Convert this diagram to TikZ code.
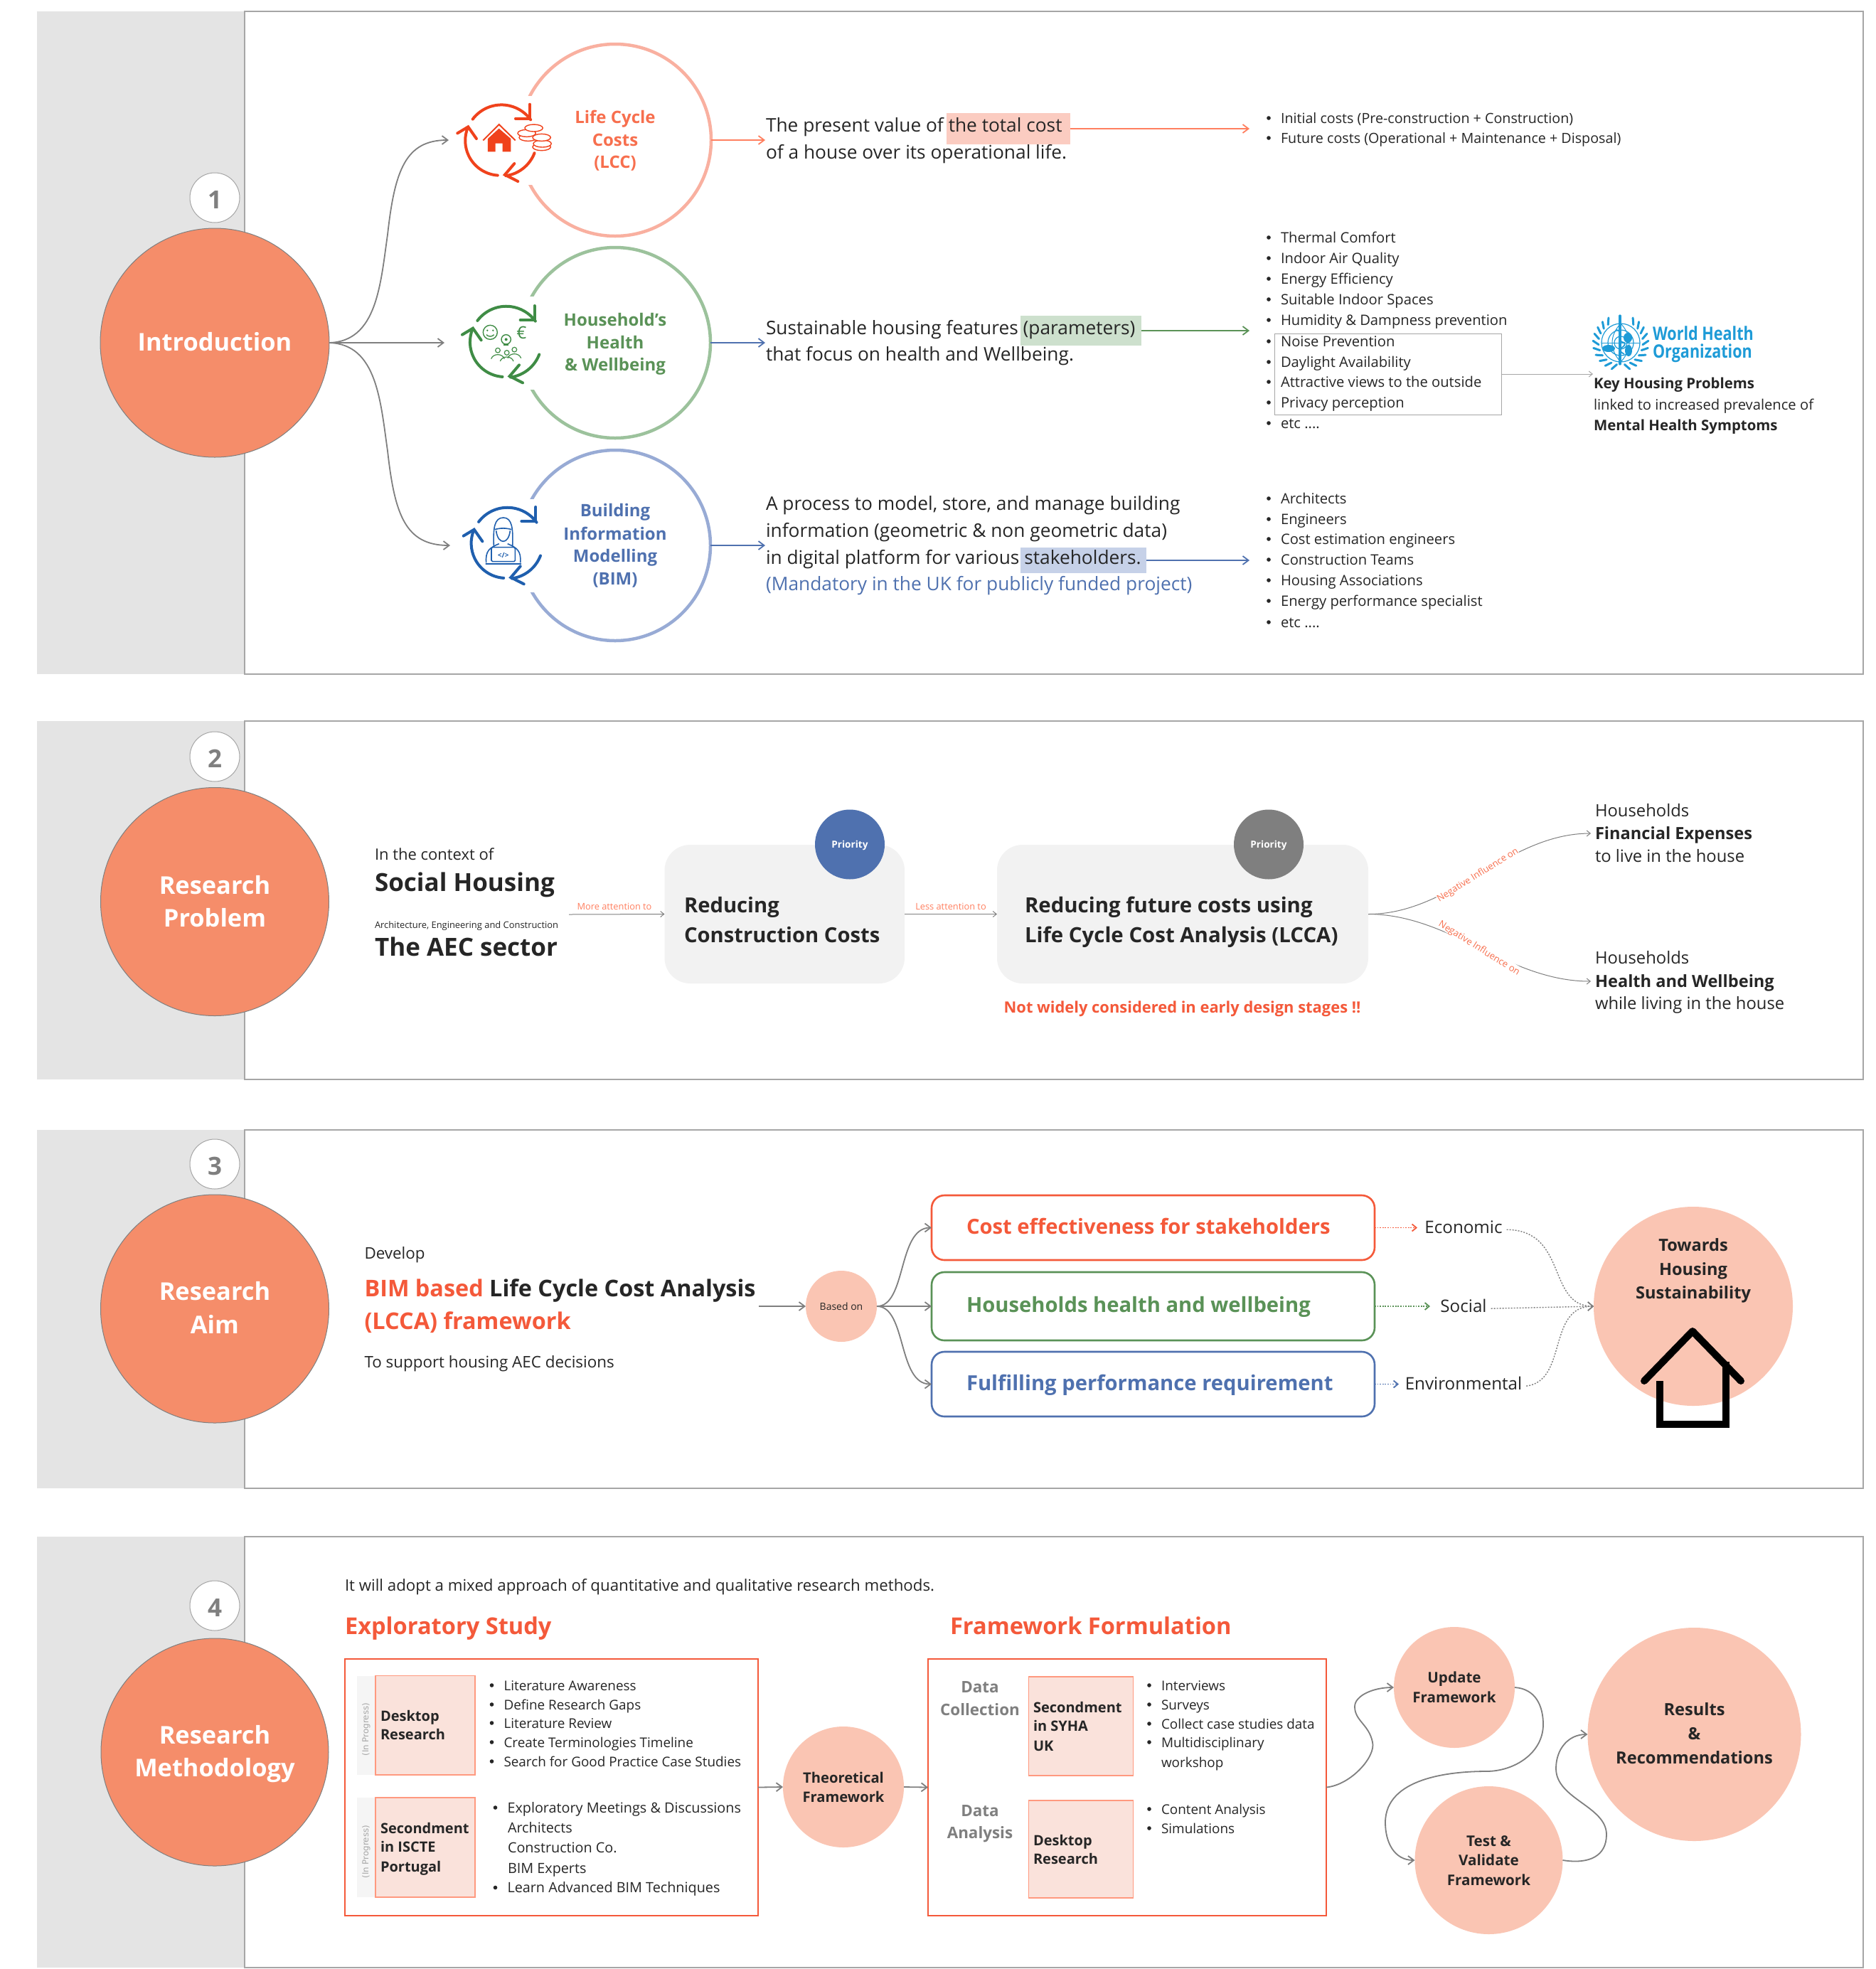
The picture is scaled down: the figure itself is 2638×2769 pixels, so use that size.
\documentclass[tikz,border=0pt]{standalone}
\usepackage{fontspec}
\setmainfont{Open Sans}
\newfontfamily\djv{DejaVu Sans}
\usetikzlibrary{arrows.meta,calc}
\definecolor{side}{HTML}{E4E4E4}
\definecolor{edge}{HTML}{A6A6A6}
\definecolor{orng}{HTML}{F58D6A}
\definecolor{peach}{HTML}{FAC5B3}
\definecolor{red1}{HTML}{F4593A}
\definecolor{sal}{HTML}{FF7F5F}
\definecolor{salt}{HTML}{F76F4E}
\definecolor{grn}{HTML}{5A9257}
\definecolor{blu}{HTML}{4F71AF}
\definecolor{ringR}{HTML}{F9B0A0}
\definecolor{ringG}{HTML}{9CC29C}
\definecolor{ringB}{HTML}{98ABD5}
\definecolor{ink}{HTML}{262626}
\definecolor{conn}{HTML}{7F7F7F}
\definecolor{boxp}{HTML}{FAE2DB}
\definecolor{who}{HTML}{1E9BD7}
\definecolor{icR}{HTML}{F0421C}
\definecolor{icG}{HTML}{3F8C45}
\definecolor{icB}{HTML}{1F5FAE}
\tikzset{
 fs/.style={font=\fontsize{#1}{#1}\selectfont},
 fb/.style={font=\fontsize{#1}{#1}\selectfont\bfseries},
 tx/.style={inner sep=0pt,outer sep=0pt,text height=.76em,text depth=.24em,anchor=west,text=ink,yshift=-1.6pt},
 ct/.style={tx,anchor=center},
 body/.style={tx,fs=13.15},
 lst/.style={tx,fs=10.1},
 lstA/.style={tx,fs=9.85},
 lstB/.style={tx,fs=9.45},
 lstC/.style={tx,fs=9.9},
 circ/.style={circle,inner sep=0pt,outer sep=0pt,minimum size=#1 pt},
 mainc/.style={circ=#1,fill=orng,draw=conn,line width=.5pt},
 numc/.style={circ=35,fill=white,draw=edge,line width=.5pt},
 numt/.style={ct,font=\fontsize{17.5}{17.5}\selectfont\bfseries,text=conn,yshift=-2pt},
 maint/.style={ct,fb=17.2,text=white,yshift=-2.2pt},
 ring/.style={circ=#1,draw=none,line width=2.25pt},
 pch/.style={circ=#1,fill=peach},
 hl/.style={inner sep=0pt,outer sep=0pt,draw=none},
 side/.style={fill=side},
 panel/.style={draw=edge,fill=white,line width=.6pt},
 arr/.style={-{Straight Barb[length=4pt,width=6pt]},line width=.9pt,draw=#1},
 tarr/.style={-{Straight Barb[length=2.5pt,width=4pt]},line width=.5pt,draw=#1},
 rbox/.style={rectangle,rounded corners=9pt,draw=#1,line width=1.3pt,fill=white,inner sep=0pt,outer sep=0pt},
 gbox/.style={rectangle,rounded corners=18pt,fill=black!5,inner sep=0pt,outer sep=0pt},
 fbox/.style={rectangle,draw=red1,line width=.7pt,fill=white,inner sep=0pt,outer sep=0pt},
 pbox/.style={rectangle,draw=sal!80,line width=.6pt,fill=boxp,inner sep=0pt,outer sep=0pt},
 strip/.style={rectangle,fill=black!4,inner sep=0pt,outer sep=0pt},
 dotarr/.style={-{Straight Barb[length=3pt,width=5pt]},line width=.9pt,dash pattern=on .9pt off .9pt,draw=#1},
 gdot/.style={-{Straight Barb[length=3.5pt,width=6pt]},line width=.7pt,dash pattern=on 1pt off 1pt,draw=conn},
 ipt/.style={ct,font=\djv\fontsize{5.9}{5.9}\selectfont,rotate=90,text=edge},
}
\newcommand{\LI}[5][lst]{\fill[ink] (#3,#4) circle (1.4pt);\node[#1] (#2) at ($(#3,#4)+(17,-1)$) {#5};}
\newcommand{\CYC}[1]{%
 \draw[#1,line width=2pt,line cap=round] (143:145) arc (143:36:152);
 \draw[#1,line width=2pt,line cap=round,line join=miter] (125,150)--(125,90)--(65,90);
 \draw[#1,line width=2pt,line cap=round] (-21:155) arc (-21:-82:152);
 \draw[#1,line width=2pt,line cap=round] (75,-175)--(20,-147)--(60,-100);
 \draw[#1,line width=2pt,line cap=round] (266:150) arc (266:158:147);
 \draw[#1,line width=2pt,line cap=round] (-180,28)--(-135,55)--(-100,5);
}
\begin{document}
\begin{tikzpicture}[x=.5pt,y=-.5pt]
\useasboundingbox (0,0) rectangle (2638,2769);
% ---------- panels
\fill[side] (52,16) rectangle (344,948);
\draw[panel] (344,16) rectangle (2620,948);
\fill[side] (52,1014) rectangle (344,1518);
\draw[panel] (344,1014) rectangle (2620,1518);
\fill[side] (52,1589) rectangle (344,2093);
\draw[panel] (344,1589) rectangle (2620,2093);
\fill[side] (52,2161) rectangle (344,2767);
\draw[panel] (344,2161) rectangle (2620,2767);
% ---------- section 1
\node[mainc=161] (intro) at (302,482) {};
\node[maint] (introt) at (302,481) {Introduction};
\node[numc] (n1) at (302,278) {};
\node[numt] (n1t) at (302,281) {1};
\node[ring=135,draw=ringR] (lcc) at (865,197) {};
\node[ring=134,draw=ringG] (hh) at (865,482) {};
\node[ring=134,draw=ringB] (bim) at (865,767) {};
\fill[white] (633,135) rectangle (787,260);
\fill[white] (627,417) rectangle (785,548);
\fill[white] (633,702) rectangle (777,833);
% icons
\begin{scope}[shift={(703.3,196.7)},x=.1667pt,y=.1667pt]
 \CYC{icR}
 \draw[icR,line width=1pt] (-72,-2)--(-5,65)--(64,-2);
 \fill[icR] (-52,5)--(-5,48)--(45,5)--(45,-50)--(10,-50)--(10,-15)--(-20,-15)--(-20,-50)--(-52,-50)--cycle;
 \foreach \yy/\xx in {10/118,28/112,50/142}{\draw[icR,line width=.7pt,fill=white] (\xx,\yy) ellipse (38 and 15);}
 \foreach \yy/\xx in {-30/175,-16/178,10/175}{\draw[icR,line width=.7pt,fill=white] (\xx,\yy) ellipse (38 and 15);}
\end{scope}
\begin{scope}[shift={(710,480)},x=.1667pt,y=.1667pt]
 \CYC{icG}
 \draw[icG,line width=.7pt] (-62,38) circle (30);
 \fill[icG] (-74,46) circle (4) (-50,46) circle (4);
 \draw[icG,line width=.7pt] (-78,28) to[bend right=50] (-46,28);
 \node[ct,fs=12,text=icG] (eur) at (70,36) {€};
 \draw[icG,line width=.7pt] (5,8) circle (20);
 \draw[icG,line width=1pt] (-5,-16)--(15,-16);
 \fill[icG] (5,8) circle (6);
 \foreach \xx/\yy in {-30/-38,8/-48,40/-35}{
  \draw[icG,line width=.6pt] (\xx,\yy) circle (10);
  \draw[icG,line width=.6pt] (\xx-28,\yy-36) .. controls (\xx-20,\yy-12) and (\xx+20,\yy-12) .. (\xx+28,\yy-36);
 }
\end{scope}
\begin{scope}[shift={(711.7,763)},x=.1667pt,y=.1667pt]
 \CYC{icB}
 \draw[icB,line width=.8pt] (-52,-15) .. controls (-55,60) and (-50,105) .. (-12,105) .. controls (25,105) and (30,60) .. (27,-15);
 \draw[icB,line width=.8pt] (-42,50) .. controls (-35,-10) and (10,-10) .. (17,50);
 \draw[icB,line width=.8pt] (-48,55) .. controls (-25,62) and (0,62) .. (23,55);
 \draw[icB,line width=.8pt] (-84,-85) .. controls (-88,-35) and (-70,-22) .. (-30,-5) (6,-5) .. controls (46,-22) and (64,-35) .. (60,-85);
 \draw[icB,line width=.8pt,fill=white,rounded corners=.8pt] (-62,-20) rectangle (38,-80);
 \draw[icB,line width=1.1pt,line cap=round] (-85,-90)--(62,-90);
 \node[ct,fb=5,text=icB,yshift=1.6pt] (code) at (-12,-50) {</>};
\end{scope}
\node[ct,fb=12,text=salt] (l1) at (865,165) {Life Cycle};
\node[ct,fb=12,text=salt] (l2) at (865,197) {Costs};
\node[ct,fb=12,text=salt] (l3) at (865,228) {(LCC)};
\node[ct,fb=12,text=grn] (h1) at (865,450) {Household's};
\node[ct,fb=12,text=grn] (h2) at (865,482) {Health};
\node[ct,fb=12,text=grn] (h3) at (865,513) {\& Wellbeing};
\node[ct,fb=12,text=blu] (b1) at (865,718) {Building};
\node[ct,fb=12,text=blu] (b2) at (865,751) {Information};
\node[ct,fb=12,text=blu] (b3) at (865,782) {Modelling};
\node[ct,fb=12,text=blu] (b4) at (865,814) {(BIM)};
% fan out
\coordinate (eL) at (631,197); \coordinate (eH) at (625,482); \coordinate (eB) at (633,767);
\draw[arr=conn] (intro.east) .. controls (530,480) and (535,400) .. (545,330) .. controls (555,240) and (570,197) .. (eL);
\draw[arr=conn] (intro.east) -- (eH);
\draw[arr=conn] (intro.east) .. controls (530,484) and (535,564) .. (545,634) .. controls (555,724) and (570,767) .. (eB);
% highlights
\node[hl,fill=ringR!65,minimum width=87pt,minimum height=22pt] (hlR) at (1418,181) {};
\node[hl,fill=ringG!50,minimum width=85pt,minimum height=21pt] (hlG) at (1520,465) {};
\node[hl,fill=ringB!55,minimum width=88.5pt,minimum height=18pt] (hlB) at (1523.5,788) {};
\node[body] (t11) at (1077,177) {The present value of the total cost};
\node[body] (t12) at (1077,215) {of a house over its operational life.};
\node[body] (t21) at (1077,462) {Sustainable housing features (parameters)};
\node[body] (t22) at (1077,499) {that focus on health and Wellbeing.};
\node[body] (t31) at (1077,709) {A process to model, store, and manage building};
\node[body] (t32) at (1077,747) {information (geometric \& non geometric data)};
\node[body] (t33) at (1077,785) {in digital platform for various stakeholders.};
\node[body,text=blu] (t34) at (1077,822) {(Mandatory in the UK for publicly funded project)};
\coordinate (a1) at (1076,197); \coordinate (a2) at (1076,482); \coordinate (a3) at (1076,767);
\draw[arr=sal] (lcc.east) -- (a1);
\draw[arr=blu] (hh.east) -- (a2);
\draw[arr=blu] (bim.east) -- (a3);
\coordinate (a4) at (1757,181); \coordinate (a5) at (1757,465); \coordinate (a6) at (1757,788);
\draw[arr=sal] (hlR.east) -- (a4);
\draw[arr=grn] (hlG.east) -- (a5);
\draw[arr=blu] (hlB.east) -- (a6);
\LI[lstA]{la1}{1784}{166}{Initial costs (Pre-construction + Construction)}
\LI[lstA]{la2}{1784}{194}{Future costs (Operational + Maintenance + Disposal)}
\LI{lb1}{1784}{334}{Thermal Comfort}
\LI{lb2}{1784}{363}{Indoor Air Quality}
\LI{lb3}{1784}{392}{Energy Efficiency}
\LI{lb4}{1784}{421}{Suitable Indoor Spaces}
\LI{lb5}{1784}{450}{Humidity \& Dampness prevention}
\LI{lb6}{1784}{480}{Noise Prevention}
\LI{lb7}{1784}{509}{Daylight Availability}
\LI{lb8}{1784}{537}{Attractive views to the outside}
\LI{lb9}{1784}{566}{Privacy perception}
\LI{lb10}{1784}{595}{etc ....}
\LI{lc1}{1784}{701}{Architects}
\LI{lc2}{1784}{730}{Engineers}
\LI{lc3}{1784}{758}{Cost estimation engineers}
\LI{lc4}{1784}{787}{Construction Teams}
\LI{lc5}{1784}{816}{Housing Associations}
\LI{lc6}{1784}{845}{Energy performance specialist}
\LI{lc7}{1784}{875}{etc ....}
\node[draw=edge,line width=.5pt,inner sep=0pt,outer sep=0pt,minimum width=159.5pt,minimum height=57pt] (nbox) at (1951.5,526) {};
\coordinate (whoa) at (2240,526);
\draw[tarr=edge] (nbox.east) -- (whoa);
% WHO emblem
\begin{scope}[shift={(2279,482)},y=.5pt]
 \foreach \rr in {9,18,27}{\draw[who,line width=.6pt] (0,0) circle (\rr);}
 \draw[who,line width=.5pt] (-27,0)--(27,0) (0,-27)--(0,27);
 \draw[who,line width=.5pt] (0,-27) .. controls (-16,-10) and (-16,10) .. (0,27);
 \draw[who,line width=.5pt] (0,-27) .. controls (16,-10) and (16,10) .. (0,27);
 \fill[who] (-17,-8) ellipse (9 and 5);
 \fill[who] (10,7) ellipse (6 and 7);
 \fill[who] (11,-11) ellipse (5 and 8);
 \draw[who,line width=1.6pt,line cap=round] (-1,-30)--(-1,38);
 \draw[who,line width=.9pt] (-6,18) .. controls (8,14) and (-10,4) .. (5,0) .. controls (10,-6) and (-10,-8) .. (5,-16);
 \foreach \aa in {-80,-65,...,65}{
  \draw[who,line width=1.5pt,line cap=round] (\aa:31) -- (\aa+9:39);
  \draw[who,line width=1.5pt,line cap=round] (180-\aa:31) -- (171-\aa:39);
 }
\end{scope}
\node[tx,fb=13,text=who,xscale=.83] (w1) at (2324,470) {World Health};
\node[tx,fb=13,text=who,xscale=.83] (w2) at (2324,495) {Organization};
\node[tx,fb=10.2] (k1) at (2241,538) {Key Housing Problems};
\node[tx,fs=10.1] (k2) at (2241,568) {linked to increased prevalence of};
\node[tx,fb=10.2] (k3) at (2241,597) {Mental Health Symptoms};
% ---------- section 2
\node[mainc=160.5] (prob) at (302,1268) {};
\node[maint] (p1) at (302,1245) {Research};
\node[maint] (p2) at (302,1291) {Problem};
\node[numc] (n2) at (302,1064) {};
\node[numt] (n2t) at (302,1067) {2};
\node[tx,fs=11] (c1) at (527,1201) {In the context of};
\node[tx,fb=17.5] (c2) at (527,1245) {Social Housing};
\node[tx,fs=6.45] (c3) at (527,1297) {Architecture, Engineering and Construction};
\node[tx,fb=17.5] (c4) at (527,1336) {The AEC sector};
\node[gbox,minimum width=168.75pt,minimum height=97.5pt] (rc) at (1103.25,1285.5) {};
\node[gbox,minimum width=261pt,minimum height=97.5pt] (rf) at (1663,1285.5) {};
\node[circ=49,fill=blu] (pr1) at (1195,1187.5) {};
\node[ct,fb=6.8,text=white,yshift=1.6pt] (pr1t) at (1195,1187.5) {Priority};
\node[circ=49,fill=conn] (pr2) at (1784,1187.5) {};
\node[ct,fb=6.8,text=white,yshift=1.6pt] (pr2t) at (1784,1187.5) {Priority};
\node[tx,fb=14.6] (r1) at (962,1275) {Reducing};
\node[tx,fb=14.6] (r2) at (962,1317) {Construction Costs};
\node[tx,fb=14.7] (r3) at (1441,1275) {Reducing future costs using};
\node[tx,fb=14.7] (r4) at (1441,1317) {Life Cycle Cost Analysis (LCCA)};
\node[ct,fb=10.95,text=red1] (nw) at (1662.5,1416) {Not widely considered in early design stages !!};
\coordinate (mA) at (800,1286);
\draw[tarr=conn] (mA) -- (rc.west);
\draw[tarr=conn] (rc.east) -- (rf.west);
\node[ct,fs=6.4,text=sal,yshift=1pt] (ma) at (864,1273) {More attention to};
\node[ct,fs=6.4,text=sal,yshift=1pt] (la) at (1337,1273) {Less attention to};
\coordinate (hF) at (2237,1172); \coordinate (hW) at (2237,1380);
\draw[tarr=conn] (rf.east) .. controls (2040,1286) and (2120,1172) .. (hF);
\draw[tarr=conn] (rf.east) .. controls (2040,1286) and (2120,1380) .. (hW);
\node[ct,fs=6.5,text=salt,fill=white,rotate=32,text height=.6em,text depth=.1em,yshift=1.6pt] (ni1) at (2079,1229) {Negative Influence on};
\node[ct,fs=6.5,text=salt,fill=white,rotate=-32,text height=.6em,text depth=.1em,yshift=1.6pt] (ni2) at (2079,1332) {Negative Influence on};
\node[tx,fs=11.9] (f1) at (2243,1140) {Households};
\node[tx,fb=11.8] (f2) at (2243,1172) {Financial Expenses};
\node[tx,fs=11.9] (f3) at (2243,1204) {to live in the house};
\node[tx,fs=11.9] (f4) at (2243,1347) {Households};
\node[tx,fb=11.8] (f5) at (2243,1380) {Health and Wellbeing};
\node[tx,fs=11.9] (f6) at (2243,1411) {while living in the house};
% ---------- section 3
\node[mainc=160.5] (aim) at (302,1840.5) {};
\node[maint] (a1t) at (302,1816) {Research};
\node[maint] (a2t) at (302,1863) {Aim};
\node[numc] (n3) at (302,1637) {};
\node[numt] (n3t) at (302,1640) {3};
\node[tx,fs=11.2] (d1) at (512.5,1762) {Develop};
\node[tx,fb=16.2] (d2) at (512.5,1815) {\textcolor{red1}{BIM based} Life Cycle Cost Analysis};
\node[tx,fb=16.2,text=red1] (d3) at (512.5,1861) {(LCCA) framework};
\node[tx,fs=11.2] (d4) at (512.5,1915) {To support housing AEC decisions};
\node[pch=50] (bo) at (1183,1837) {};
\node[ct,fs=7,yshift=1.6pt] (bot) at (1183,1837) {Based on};
\coordinate (ds) at (1067,1837);
\draw[arr=conn] (ds) -- (bo.west);
\node[rbox=red1,minimum width=311.5pt,minimum height=45.5pt] (bx1) at (1621.5,1726.5) {};
\node[rbox=grn,minimum width=311.5pt,minimum height=48pt] (bx2) at (1621.5,1837) {};
\node[rbox=blu,minimum width=311.5pt,minimum height=45.5pt] (bx3) at (1621.5,1946.5) {};
\draw[arr=conn] (bo.east) .. controls (1275,1837) and (1262,1726.5) .. (bx1.west);
\draw[arr=conn] (bo.east) -- (bx2.west);
\draw[arr=conn] (bo.east) .. controls (1275,1837) and (1262,1946.5) .. (bx3.west);
\node[tx,fb=14.6,text=red1] (bt1) at (1359,1727) {Cost effectiveness for stakeholders};
\node[tx,fb=14.6,text=grn] (bt2) at (1359,1837) {Households health and wellbeing};
\node[tx,fb=14.6,text=blu] (bt3) at (1359,1947) {Fulfilling performance requirement};
\node[ct,fs=12.1] (e1) at (2058,1726) {Economic};
\node[ct,fs=12.1] (e2) at (2058,1837) {Social};
\node[ct,fs=12.1] (e3) at (2058,1946) {Environmental};
\coordinate (dR) at (1993,1726.5); \coordinate (dG) at (2011,1837); \coordinate (dB) at (1967,1946.5);
\draw[dotarr=red1] (bx1.east) -- (dR);
\draw[dotarr=grn] (bx2.east) -- (dG);
\draw[dotarr=blu] (bx3.east) -- (dB);
\node[pch=140] (tw) at (2381,1837) {};
\draw[gdot] (e1.east) ++(6,0) .. controls (2205,1730) and (2175,1837) .. (tw.west);
\draw[gdot] (e2.east) ++(6,0) -- (tw.west);
\draw[gdot] (e3.east) ++(6,0) .. controls (2205,1942) and (2175,1837) .. (tw.west);
\node[ct,fb=11.8] (tw1) at (2381,1751) {Towards};
\node[ct,fb=11.8] (tw2) at (2381,1785) {Housing};
\node[ct,fb=11.8] (tw3) at (2381,1818) {Sustainability};
\draw[black,line width=5pt,line cap=round,line join=round] (2312,1942)--(2380,1872)--(2448,1942);
\draw[black,line width=5pt,line join=miter] (2334,1942)--(2334,2003)--(2427,2003)--(2427,1915);
% ---------- section 4
\node[mainc=160] (met) at (302,2464) {};
\node[maint] (m1) at (302,2440) {Research};
\node[maint] (m2) at (302,2486) {Methodology};
\node[numc] (n4) at (302,2258) {};
\node[numt] (n4t) at (302,2261) {4};
\node[tx,fs=11.14] (ad) at (485,2229) {It will adopt a mixed approach of quantitative and qualitative research methods.};
\node[tx,fb=16.3,text=red1] (ex) at (485,2290) {Exploratory Study};
\node[tx,fb=16.3,text=red1] (ff) at (1336,2290) {Framework Formulation};
\node[fbox,minimum width=290.5pt,minimum height=180.5pt] (fb1) at (775.5,2513.5) {};
\node[fbox,minimum width=280pt,minimum height=180.5pt] (fb2) at (1585,2513.5) {};
\node[strip,minimum width=13pt,minimum height=69.75pt] (s1) at (515,2426.25) {};
\node[strip,minimum width=13pt,minimum height=70pt] (s2) at (515,2598) {};
\node[pbox,minimum width=70pt,minimum height=69.75pt] (d1b) at (598,2426.25) {};
\node[pbox,minimum width=70pt,minimum height=70pt] (d2b) at (598,2598) {};
\node[ipt] (ip1) at (513,2429) {(In Progress)};
\node[ipt] (ip2) at (513,2601) {(In Progress)};
\node[tx,fb=10] (x1) at (535,2412) {Desktop};
\node[tx,fb=10] (x2) at (535,2438) {Research};
\node[tx,fb=10] (x3) at (535,2570) {Secondment};
\node[tx,fb=10] (x4) at (535,2596) {in ISCTE};
\node[tx,fb=10] (x5) at (535,2624) {Portugal};
\LI[lstB]{ma1}{691.5}{2370}{Literature Awareness}
\LI[lstB]{ma2}{691.5}{2397}{Define Research Gaps}
\LI[lstB]{ma3}{691.5}{2423}{Literature Review}
\LI[lstB]{ma4}{691.5}{2450}{Create Terminologies Timeline}
\LI[lstB]{ma5}{691.5}{2477}{Search for Good Practice Case Studies}
\LI[lstC]{mb1}{696.5}{2542}{Exploratory Meetings \& Discussions}
\node[lstC] (mb2) at (714,2569) {Architects};
\node[lstC] (mb3) at (714,2597) {Construction Co.};
\node[lstC] (mb4) at (714,2626) {BIM Experts};
\LI[lstC]{mb5}{696.5}{2654.5}{Learn Advanced BIM Techniques}
\node[pch=85] (th) at (1186,2513) {};
\node[ct,fb=10.1] (th1) at (1186,2499) {Theoretical};
\node[ct,fb=10.1] (th2) at (1186,2526) {Framework};
\draw[arr=conn] (fb1.east) -- (th.west);
\draw[arr=conn] (th.east) -- (fb2.west);
\node[ct,fb=11.2,text=conn] (dc1) at (1378,2372) {Data};
\node[ct,fb=11.2,text=conn] (dc2) at (1378,2404) {Collection};
\node[ct,fb=11.2,text=conn] (dc3) at (1378,2546) {Data};
\node[ct,fb=11.2,text=conn] (dc4) at (1378,2577) {Analysis};
\node[pbox,minimum width=73.25pt,minimum height=69.5pt] (sb) at (1520,2427.5) {};
\node[pbox,minimum width=73.25pt,minimum height=68.5pt] (db) at (1520,2600.5) {};
\node[tx,fb=10] (y1) at (1453,2400) {Secondment};
\node[tx,fb=10] (y2) at (1453,2426) {in SYHA};
\node[tx,fb=10] (y3) at (1453,2454) {UK};
\node[tx,fb=10] (y4) at (1453,2587) {Desktop};
\node[tx,fb=10] (y5) at (1453,2613) {Research};
\LI[lstB]{na1}{1616}{2370}{Interviews}
\LI[lstB]{na2}{1616}{2397}{Surveys}
\LI[lstB]{na3}{1616}{2424}{Collect case studies data}
\LI[lstB]{na4}{1616}{2450}{Multidisciplinary}
\node[lstB] (na5) at (1633,2477) {workshop};
\LI[lstB]{nb1}{1616}{2544}{Content Analysis}
\LI[lstB]{nb2}{1616}{2571}{Simulations}
\node[pch=85] (up) at (2045,2373) {};
\node[ct,fb=10.3] (up1) at (2045,2358) {Update};
\node[ct,fb=10.3] (up2) at (2045,2386) {Framework};
\node[pch=104] (te) at (2093.5,2616) {};
\node[ct,fb=10.3] (te1) at (2093.5,2588) {Test \&};
\node[ct,fb=10.3] (te2) at (2093.5,2615) {Validate};
\node[ct,fb=10.3] (te3) at (2093.5,2643) {Framework};
\node[pch=150] (re) at (2382.5,2439) {};
\node[ct,fb=11.8] (re1) at (2382.5,2404) {Results};
\node[ct,fb=11.8] (re2) at (2382.5,2438) {\&};
\node[ct,fb=11.8] (re3) at (2382.5,2472) {Recommendations};
\draw[arr=conn] (fb2.east) .. controls (1900,2510) and (1935,2470) .. (1930,2450) .. controls (1925,2425) and (1905,2420) .. (1905,2400) .. controls (1905,2385) and (1930,2373) .. (up.west);
\draw[arr=conn] (up.east) .. controls (2160,2375) and (2170,2400) .. (2170,2425) .. controls (2170,2465) and (2130,2491) .. (2090,2491) .. controls (2040,2491) and (1948,2500) .. (1948,2563) .. controls (1948,2590) and (1960,2616) .. (te.west);
\draw[arr=conn] (te.east) .. controls (2235,2622) and (2259,2610) .. (2259,2580) .. controls (2259,2540) and (2188,2530) .. (2188,2487) .. controls (2188,2460) and (2205,2439) .. (re.west);
\end{tikzpicture}
\end{document}
